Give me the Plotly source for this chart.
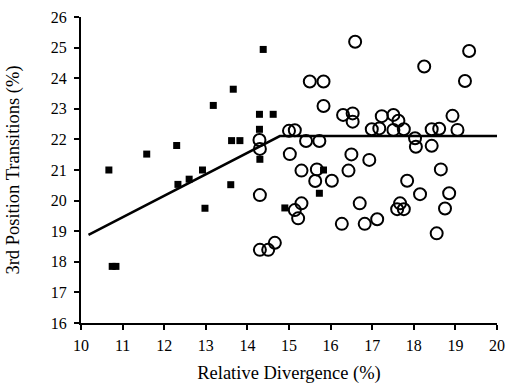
import plotly.graph_objects as go

# Filled squares
sq_x = [10.67, 10.75, 10.84, 11.58, 12.30, 12.33, 12.60, 12.92, 12.98, 13.18,
        13.60, 13.62, 13.82, 13.66, 14.29, 14.29, 14.30, 14.38, 14.62, 14.90,
        15.73, 15.83]
sq_y = [21.00, 17.85, 17.85, 21.52, 21.80, 20.53, 20.70, 21.00, 19.75, 23.11,
        20.52, 21.96, 21.96, 23.64, 22.82, 22.33, 21.35, 24.94, 22.82, 19.76,
        20.24, 21.00]

# Open circles
ci_x = [14.29, 14.30, 14.30, 14.30, 14.50, 14.66, 15.00, 15.14, 15.02, 15.30,
        15.14, 15.22, 15.30, 15.41, 15.50, 15.63, 15.67, 15.73, 15.83, 15.83,
        16.03, 16.27, 16.30, 16.43, 16.50, 16.53, 16.53, 16.59, 16.70, 16.82,
        16.93, 16.99, 17.12, 17.17, 17.23, 17.51, 17.51, 17.63, 17.60, 17.67,
        17.76, 17.76, 17.84, 18.03, 18.05, 18.15, 18.25, 18.43, 18.43, 18.55,
        18.61, 18.65, 18.75, 18.85, 18.93, 19.05, 19.23, 19.33]
ci_y = [21.98, 21.69, 20.18, 18.39, 18.39, 18.62, 22.28, 22.30, 21.52, 20.98,
        19.69, 19.42, 19.91, 21.95, 23.89, 20.64, 21.02, 21.95, 23.89, 23.09,
        20.65, 19.24, 22.80, 20.98, 21.51, 22.85, 22.58, 25.19, 19.91, 19.24,
        21.33, 22.33, 19.39, 22.36, 22.76, 22.80, 22.31, 22.61, 19.72, 19.91,
        19.72, 22.33, 20.65, 22.04, 21.76, 20.21, 24.38, 22.33, 21.79, 18.93,
        22.35, 21.02, 19.74, 20.24, 22.77, 22.31, 23.91, 24.89]

# Fitted piecewise line
fit_x = [10.18, 14.78, 20.0]
fit_y = [18.88, 22.11, 22.11]

x_ticks = [10, 11, 12, 13, 14, 15, 16, 17, 18, 19, 20]
y_ticks = [16, 17, 18, 19, 20, 21, 22, 23, 24, 25, 26]

FONT = "Liberation Serif"

fig = go.Figure()
fig.add_trace(go.Scatter(x=fit_x, y=fit_y, mode="lines",
                         line=dict(color="black", width=2.5), showlegend=False))
fig.add_trace(go.Scatter(x=sq_x, y=sq_y, mode="markers",
                         marker=dict(symbol="square", size=7, color="black"),
                         showlegend=False))
fig.add_trace(go.Scatter(x=ci_x, y=ci_y, mode="markers",
                         marker=dict(symbol="circle-open", size=12, color="black",
                                     line=dict(width=2, color="black")),
                         showlegend=False))

fig.update_layout(
    width=510, height=385,
    margin=dict(l=81, r=13, t=17, b=62, autoexpand=False),
    paper_bgcolor="white", plot_bgcolor="white",
    font=dict(family=FONT, color="black", size=16),
    xaxis=dict(range=[10, 20], tickvals=x_ticks, showgrid=False, zeroline=False,
               showline=True, linecolor="black", linewidth=2,
               ticks="outside", ticklen=5, tickwidth=2, tickcolor="black",
               ticklabelstandoff=2, ticklabeloverflow="allow",
               tickfont=dict(size=16, family=FONT),
               title=dict(text="Relative Divergence (%)", font=dict(size=18.5, family=FONT),
                          standoff=13)),
    yaxis=dict(range=[16, 26], tickvals=y_ticks, showgrid=False, zeroline=False,
               showline=True, linecolor="black", linewidth=2,
               ticks="outside", ticklen=5, tickwidth=2, tickcolor="black",
               ticklabelstandoff=4, ticklabeloverflow="allow",
               tickfont=dict(size=16, family=FONT),
               title=dict(text="3rd Position Transitions (%)", font=dict(size=18.5, family=FONT),
                          standoff=26)),
)

fig.write_html("out.html",
               config={"displayModeBar": False},
               post_script="document.body.style.margin='0';document.body.style.overflow='hidden';")
